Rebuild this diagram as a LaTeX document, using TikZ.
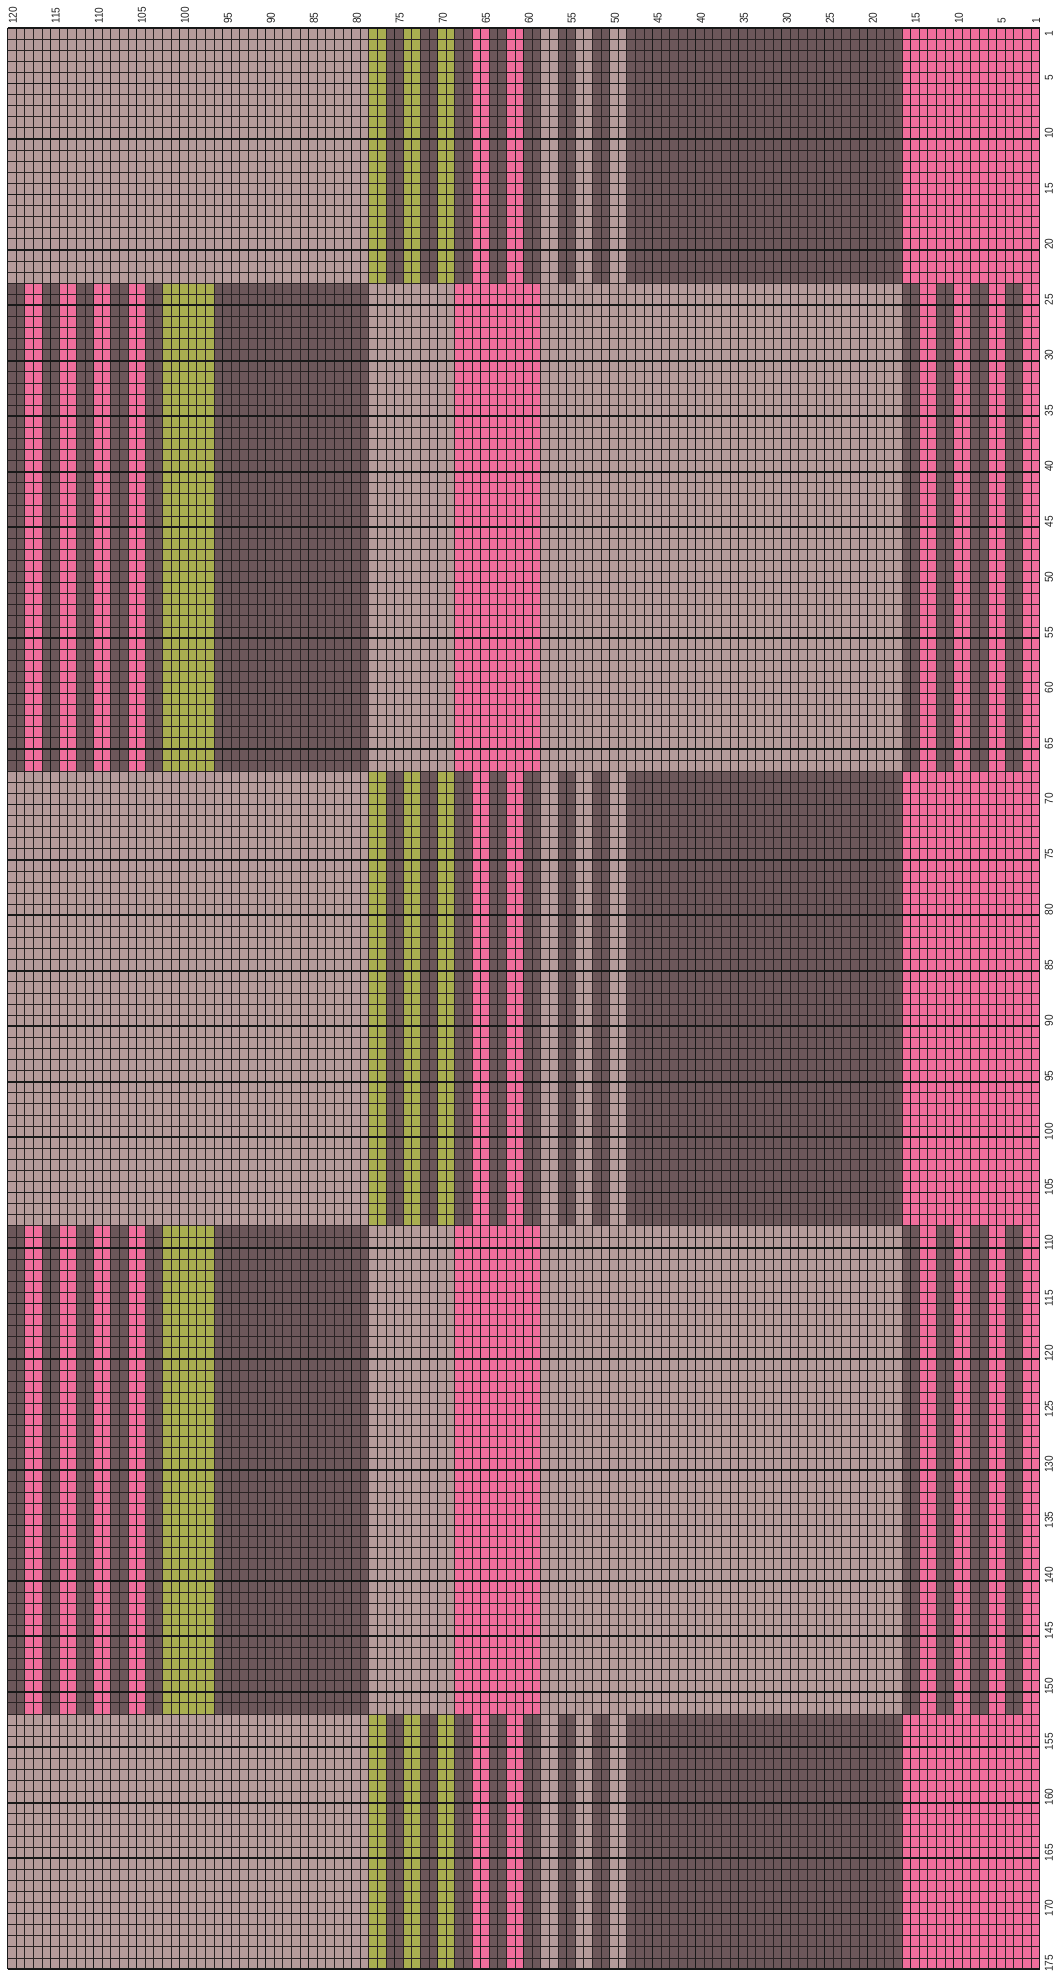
\documentclass[tikz,border=0pt]{standalone}
\usepackage{fontspec}
\setmainfont{Liberation Sans}
\definecolor{lightc}{HTML}{B59B9B}
\definecolor{darkc}{HTML}{6C575A}
\definecolor{pinkc}{HTML}{F06E9C}
\definecolor{olivec}{HTML}{A9AE50}
\definecolor{gridc}{HTML}{2A2324}
\def\gL{7.5}\def\gT{28}\def\cw{8.6}\def\rh{11.09143}
\newcommand\rowsA[2]{%
  \foreach \a/\b/\col in {120/79/lightc,78/77/olivec,76/75/darkc,74/73/olivec,72/71/darkc,70/69/olivec,68/67/darkc,66/65/pinkc,64/63/darkc,62/61/pinkc,60/59/darkc,58/57/lightc,56/55/darkc,54/53/lightc,52/51/darkc,50/49/lightc,48/17/darkc,16/1/pinkc}
  {\fill[\col] ({\gL+(120-\a)*\cw},{\gT+(#1-1)*\rh}) rectangle ({\gL+(121-\b)*\cw},{\gT+#2*\rh});}}
\newcommand\rowsB[2]{%
  \foreach \a/\b/\col in {120/119/darkc,118/117/pinkc,116/115/darkc,114/113/pinkc,112/111/darkc,110/109/pinkc,108/107/darkc,106/105/pinkc,104/103/darkc,102/97/olivec,96/79/darkc,78/69/lightc,68/59/pinkc,58/17/lightc,16/15/darkc,14/13/pinkc,12/11/darkc,10/9/pinkc,8/7/darkc,6/5/pinkc,4/3/darkc,2/1/pinkc}
  {\fill[\col] ({\gL+(120-\a)*\cw},{\gT+(#1-1)*\rh}) rectangle ({\gL+(121-\b)*\cw},{\gT+#2*\rh});}}
\begin{document}
\begin{tikzpicture}[x=1pt,y=-1pt,
  thinline/.style={line width=0.8pt, draw=gridc},
  thickline/.style={line width=1.7pt, draw=black!90},
  lbl/.style={font=\fontsize{11.5}{13}\selectfont, inner sep=0pt, rotate=90, text=black!85}]
\useasboundingbox (0,0) rectangle (1061,1975);
\fill[white] (0,0) rectangle (1061,1975);
% colour bands
\rowsA{1}{23}
\rowsB{24}{67}
\rowsA{68}{108}
\rowsB{109}{152}
\rowsA{153}{175}
% thin grid
\foreach \i in {0,...,120} \draw[thinline] ({\gL+\i*\cw},\gT) -- ({\gL+\i*\cw},{\gT+175*\rh});
\foreach \j in {0,...,175} \draw[thinline] (\gL,{\gT+\j*\rh}) -- ({\gL+120*\cw},{\gT+\j*\rh});
% thick grid
\foreach \i in {0,5,...,120} \draw[thickline] ({\gL+\i*\cw},\gT) -- ({\gL+\i*\cw},{\gT+175*\rh});
\foreach \j in {0,5,...,175} \draw[thickline] (\gL,{\gT+\j*\rh}) -- ({\gL+120*\cw},{\gT+\j*\rh});
% column labels
\foreach \c in {1,5,10,...,120}
  \node[lbl, anchor=west, name=cl\c] at ({\gL+(120.5-\c)*\cw+1},24) {\scalebox{0.88}[1]{\c}};
% row labels
\foreach \r in {1,5,10,...,175}
  \node[lbl, anchor=center, name=rl\r] at (1049,{\gT+(\r-0.5)*\rh}) {\scalebox{0.88}[1]{\r}};
\end{tikzpicture}
\end{document}
